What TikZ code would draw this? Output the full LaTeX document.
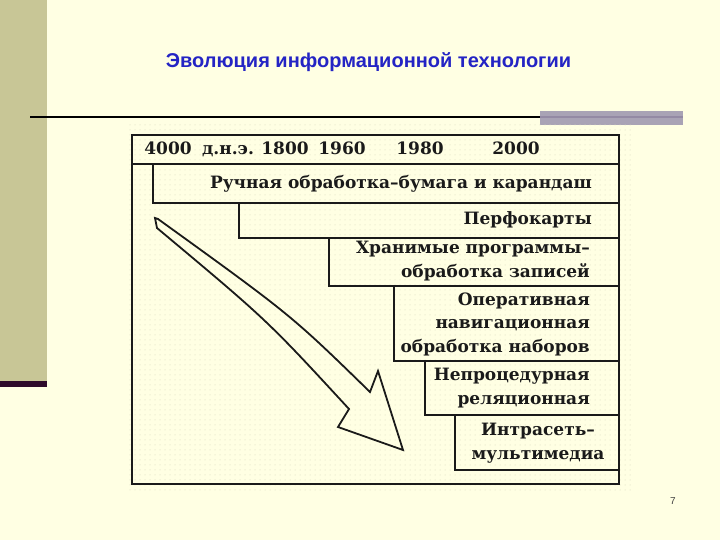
\documentclass[tikz,border=0pt]{standalone}
\usepackage{fontspec}
\setmainfont{DejaVu Serif}
\newfontfamily\titlefont{Liberation Sans}
\usetikzlibrary{patterns.meta}
\definecolor{bg}{HTML}{FFFFE3}
\definecolor{strip}{HTML}{C8C696}
\definecolor{darkbar}{HTML}{2E0A2A}
\definecolor{greybar}{HTML}{A9A3B5}
\definecolor{greyline}{HTML}{948AA4}
\definecolor{titleblue}{HTML}{2424C4}
\definecolor{dotc}{HTML}{D4D4BC}
\definecolor{ink}{HTML}{1A1A1A}
\tikzset{
  title/.style={font=\titlefont\bfseries\fontsize{20}{24}\selectfont, text=titleblue, inner sep=0pt},
  frame/.style={draw=ink, line width=2pt, inner sep=0pt, anchor=north west},
  rowbox/.style={draw=ink, line width=1.6pt, inner sep=0pt, anchor=north west},
  year/.style={font=\bfseries\fontsize{17}{20}\selectfont, text=ink, inner sep=0pt, anchor=base},
  rowtext/.style={font=\bfseries\fontsize{17}{23.5}\selectfont, text=ink, inner sep=0pt, anchor=east, align=right},
  arrowline/.style={draw=ink, line width=1.8pt, line join=miter},
  pagenum/.style={font=\titlefont\fontsize{10}{12}\selectfont, text=black!75, inner sep=0pt}
}
\begin{document}
\begin{tikzpicture}[x=1pt,y=-1pt]
\useasboundingbox (0,0) rectangle (720,540);
\fill[bg] (0,0) rectangle (720,540);
\fill[strip] (0,0) rectangle (47,381);
\fill[darkbar] (0,381) rectangle (47,387);
\fill[greybar] (540,111) rectangle (683,125);
\draw[greyline, line width=2pt] (540,117.5) -- (683,117.5);
\draw[black, line width=2pt] (30,117) -- (540,117);
\node[title] (title) at (368.5,62) {Эволюция информационной технологии};
\fill[pattern={Dots[distance=5pt,radius=0.5pt]}, pattern color=dotc] (127,122) rectangle (632,490);

% frame and header
\node[frame, minimum width=487pt, minimum height=349pt] (frame) at (131,134) {};
\node[frame, minimum width=487pt, minimum height=29pt] (header) at (131,134) {};
\node[year] (y4000) at (168,155) {4000};
\node[year] (bc) at (228,155) {д.н.э.};
\node[year] (y1800) at (285,155) {1800};
\node[year] (y1960) at (342,155) {1960};
\node[year] (y1980) at (420,155) {1980};
\node[year] (y2000) at (516,155) {2000};

% rows
\node[rowbox, minimum width=466pt, minimum height=39pt] (r1) at (152,163) {};
\node[rowbox, minimum width=380pt, minimum height=35pt] (r2) at (238,202) {};
\node[rowbox, minimum width=290pt, minimum height=48pt] (r3) at (328,237) {};
\node[rowbox, minimum width=225pt, minimum height=75pt] (r4) at (393,285) {};
\node[rowbox, minimum width=194pt, minimum height=54pt] (r5) at (424,360) {};
\node[rowbox, minimum width=164pt, minimum height=55pt] (r6) at (454,414) {};

\node[rowtext] (t1) at (592,184) {Ручная обработка–бумага и карандаш};
\node[rowtext] (t2) at (592,220) {Перфокарты};
\node[rowtext] (t3) at (590,261) {Хранимые программы–\\обработка записей};
\node[rowtext] (t4) at (590,324) {Оперативная\\навигационная\\обработка наборов};
\node[rowtext] (t5) at (590,388) {Непроцедурная\\реляционная};
\node[rowtext, anchor=center, align=center] (t6) at (538,443) {Интрасеть–\\мультимедиа};

% big hollow arrow
\draw[arrowline] (155,218) -- (158,219) .. controls (291,315) .. (370,392) -- (378,371) -- (403,450) -- (338,427) -- (349,409) .. controls (267,320) .. (157,228) -- cycle;

\node[pagenum] (page) at (673,501) {7};
\end{tikzpicture}
\end{document}
